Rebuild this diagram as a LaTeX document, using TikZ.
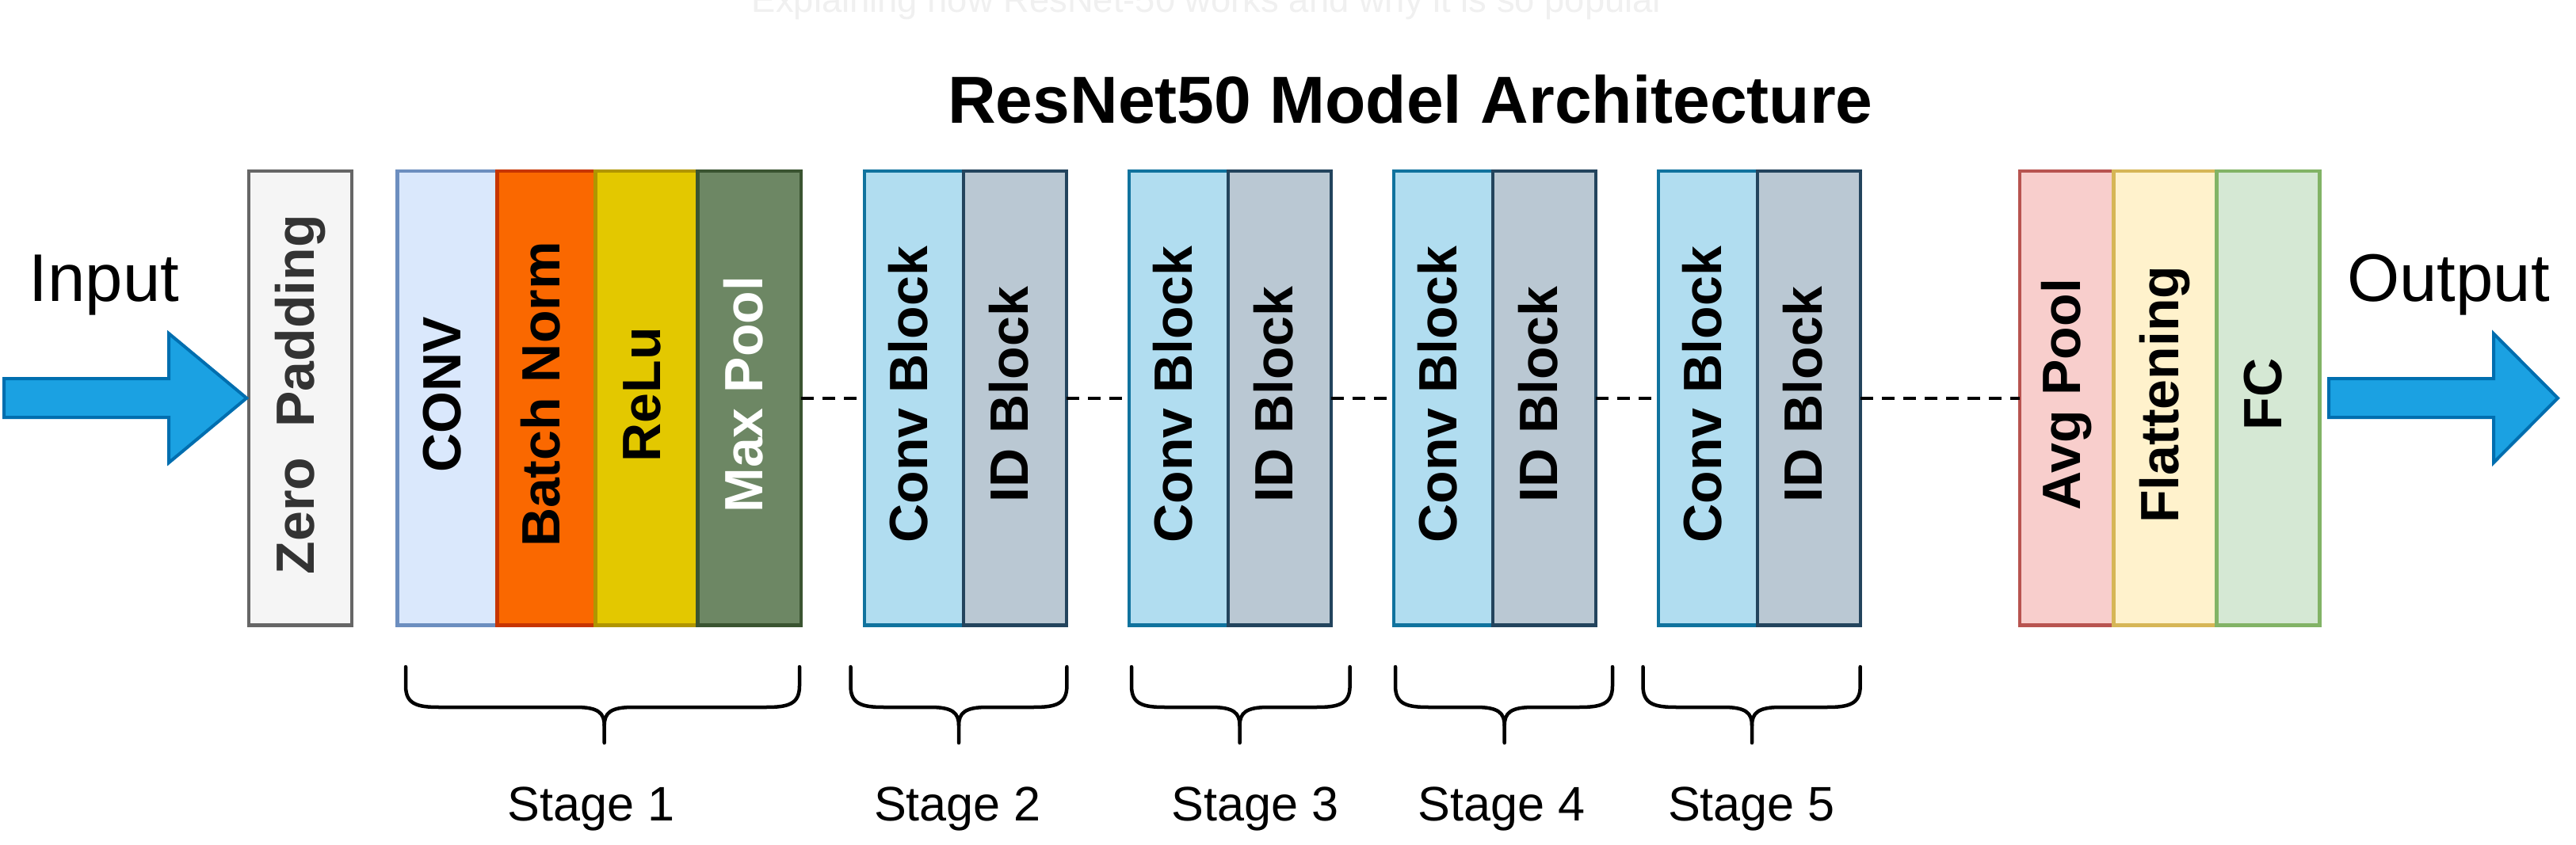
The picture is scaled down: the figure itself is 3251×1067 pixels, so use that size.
\documentclass[tikz,border=0pt]{standalone}
\usepackage{fontspec}
\setmainfont{Liberation Sans}
\usetikzlibrary{calc}
\definecolor{zpfill}{HTML}{F5F5F5}\definecolor{zpdraw}{HTML}{666666}\definecolor{zptext}{HTML}{333333}
\definecolor{cvfill}{HTML}{DAE8FC}\definecolor{cvdraw}{HTML}{6C8EBF}
\definecolor{bnfill}{HTML}{FA6800}\definecolor{bndraw}{HTML}{C73500}
\definecolor{rlfill}{HTML}{E3C800}\definecolor{rldraw}{HTML}{B09500}
\definecolor{mpfill}{HTML}{6D8764}\definecolor{mpdraw}{HTML}{3A5431}
\definecolor{cbfill}{HTML}{B1DDF0}\definecolor{cbdraw}{HTML}{10739E}
\definecolor{idfill}{HTML}{BAC8D3}\definecolor{iddraw}{HTML}{23445D}
\definecolor{apfill}{HTML}{F8CECC}\definecolor{apdraw}{HTML}{B85450}
\definecolor{flfill}{HTML}{FFF2CC}\definecolor{fldraw}{HTML}{D6B656}
\definecolor{fcfill}{HTML}{D5E8D4}\definecolor{fcdraw}{HTML}{82B366}
\definecolor{arfill}{HTML}{1BA1E2}\definecolor{ardraw}{HTML}{006EAF}
\definecolor{faint}{HTML}{F0F0F0}
\newcommand\archbox[7]{%
  \node[blk, fill=#4, draw=#5, minimum width={(#3-#2)*0.01cm}] (#1) at (#2,215.8) {};
  \node[blktext, text=#6] (#1t) at ($(#1.center)+(17,-4.5)$) {#7};}
\newcommand\stagebrace[3]{%
  \draw[bracestyle] (#1,842) -- (#1,866) .. controls (#1,889) and ({#1+14},893) .. ({#1+42},893)
     -- ({#3-36},893) .. controls ({#3-8},893) and (#3,900) .. (#3,916) -- (#3,938);
  \draw[bracestyle] (#2,842) -- (#2,866) .. controls (#2,889) and ({#2-14},893) .. ({#2-42},893)
     -- ({#3+36},893) .. controls ({#3+8},893) and (#3,900) .. (#3,916);}
\begin{document}
\begin{tikzpicture}[x=0.01cm,y=-0.01cm,
  blk/.style={line width=0.045cm, inner sep=0pt, outer sep=0pt, minimum height=5.734cm, anchor=north west},
  blktext/.style={font=\fontsize{19.35pt}{23pt}\selectfont\bfseries, rotate=90, anchor=base, inner sep=0pt},
  dashln/.style={line width=0.04cm, dash pattern=on 0.16cm off 0.11cm},
  bigarrow/.style={fill=arfill, draw=ardraw, line width=0.04cm},
  bracestyle/.style={line width=0.045cm, line cap=round},
  stagelbl/.style={font=\fontsize{17.4pt}{20pt}\selectfont, anchor=base, inner sep=0pt},
  iolbl/.style={font=\fontsize{24.2pt}{28pt}\selectfont, anchor=base, inner sep=0pt}]
\fill[white] (0,0) rectangle (3251,1067);
\useasboundingbox (0,0) rectangle (3251,1067);

\node[font=\fontsize{12.9pt}{15pt}\selectfont, text=faint, anchor=base, inner sep=0pt] (sub) at (1525,16) {Explaining how ResNet-50 works and why it is so popular};
\node[font=\fontsize{23.9pt}{28pt}\selectfont\bfseries, anchor=base, inner sep=0pt] (title) at (1780,156) {ResNet50 Model Architecture};

\archbox{ZP}{314.2}{444.2}{zpfill}{zpdraw}{zptext}{Zero\ \ Padding}
\archbox{CV}{501.7}{627.5}{cvfill}{cvdraw}{black}{CONV}
\archbox{BN}{627.5}{751.7}{bnfill}{bndraw}{black}{Batch Norm}
\archbox{RL}{751.7}{880.4}{rlfill}{rldraw}{black}{ReLu}
\archbox{MP}{880.4}{1011.2}{mpfill}{mpdraw}{white}{Max Pool}
\archbox{SiiC}{1090.8}{1215.8}{cbfill}{cbdraw}{black}{Conv Block}
\archbox{SiiI}{1215.8}{1345.8}{idfill}{iddraw}{black}{ID Block}
\archbox{SiiiC}{1424.8}{1549.8}{cbfill}{cbdraw}{black}{Conv Block}
\archbox{SiiiI}{1549.8}{1679.8}{idfill}{iddraw}{black}{ID Block}
\archbox{SivC}{1758.8}{1883.8}{cbfill}{cbdraw}{black}{Conv Block}
\archbox{SivI}{1883.8}{2013.8}{idfill}{iddraw}{black}{ID Block}
\archbox{SvC}{2092.8}{2217.8}{cbfill}{cbdraw}{black}{Conv Block}
\archbox{SvI}{2217.8}{2347.8}{idfill}{iddraw}{black}{ID Block}
\archbox{AP}{2549.2}{2667.5}{apfill}{apdraw}{black}{Avg Pool}
\archbox{FL}{2667.5}{2797.5}{flfill}{fldraw}{black}{Flattening}
\archbox{FC}{2797.5}{2927.5}{fcfill}{fcdraw}{black}{FC}

\draw[dashln] (MP.east) -- (SiiC.west);
\draw[dashln] (SiiI.east) -- (SiiiC.west);
\draw[dashln] (SiiiI.east) -- (SivC.west);
\draw[dashln] (SivI.east) -- (SvC.west);
\draw[dashln] (SvI.east) -- (AP.west);

\draw[bigarrow] ($(ZP.west)+(-3,0)$) coordinate (inTip) -- ++(-98,-81.5) -- ++(0,57) -- ++(-208,0)
   -- ++(0,49) -- ++(208,0) -- ++(0,57) -- cycle;
\draw[bigarrow] ($(FC.east)+(11.5,-24.5)$) coordinate (outStart) -- ++(208,0) -- ++(0,-57) -- ++(81,81.5)
   -- ++(-81,81.5) -- ++(0,-57) -- ++(-208,0) -- cycle;

\node[iolbl] (inlbl) at (131.5,380.8) {Input};
\node[iolbl] (outlbl) at (3090,380.8) {Output};

\stagebrace{512}{1009}{762.7}
\stagebrace{1073.5}{1346.4}{1210}
\stagebrace{1428}{1703.6}{1564.6}
\stagebrace{1761}{2035}{1898.7}
\stagebrace{2073.5}{2347.7}{2211}

\node[stagelbl] (st1) at (746,1036.7) {Stage 1};
\node[stagelbl] (st2) at (1208.5,1036.7) {Stage 2};
\node[stagelbl] (st3) at (1584,1036.7) {Stage 3};
\node[stagelbl] (st4) at (1895,1036.7) {Stage 4};
\node[stagelbl] (st5) at (2210.5,1036.7) {Stage 5};
\end{tikzpicture}
\end{document}
